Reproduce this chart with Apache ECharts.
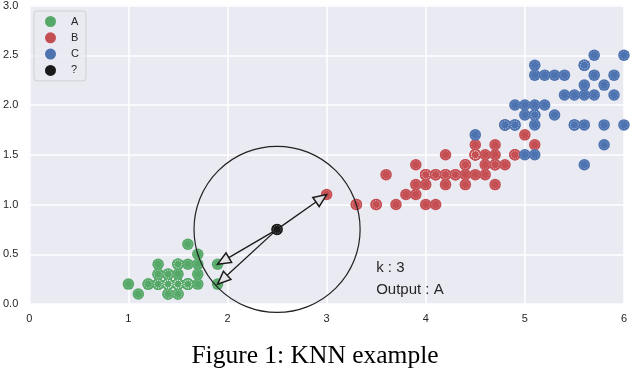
<!DOCTYPE html>
<html><head><meta charset="utf-8">
<script src="https://cdn.jsdelivr.net/npm/echarts@6/dist/echarts.min.js"></script>
<style>html,body{margin:0;padding:0;background:#fff}#c{width:630px;height:368px}</style>
</head><body><div id="c"></div>
<script>
// ---- data (petal length, petal width) ----
const classNames = ['A', 'B', 'C', '?'];
const classA = [[1.4,0.2],[1.4,0.2],[1.3,0.2],[1.5,0.2],[1.4,0.2],[1.7,0.4],[1.4,0.3],[1.5,0.2],[1.4,0.2],[1.5,0.1],
[1.5,0.2],[1.6,0.2],[1.4,0.1],[1.1,0.1],[1.2,0.2],[1.5,0.4],[1.3,0.4],[1.4,0.3],[1.7,0.3],[1.5,0.3],
[1.7,0.2],[1.5,0.4],[1.0,0.2],[1.7,0.5],[1.9,0.2],[1.6,0.2],[1.6,0.4],[1.5,0.2],[1.4,0.2],[1.6,0.2],
[1.6,0.2],[1.5,0.4],[1.5,0.1],[1.4,0.2],[1.5,0.2],[1.2,0.2],[1.3,0.2],[1.4,0.1],[1.3,0.2],[1.5,0.2],
[1.3,0.3],[1.3,0.3],[1.3,0.2],[1.6,0.6],[1.9,0.4],[1.4,0.3],[1.6,0.2],[1.4,0.2],[1.5,0.2],[1.4,0.2]];
const classB = [[4.7,1.4],[4.5,1.5],[4.9,1.5],[4.0,1.3],[4.6,1.5],[4.5,1.3],[4.7,1.6],[3.3,1.0],[4.6,1.3],[3.9,1.4],
[3.5,1.0],[4.2,1.5],[4.0,1.0],[4.7,1.4],[3.6,1.3],[4.4,1.4],[4.5,1.5],[4.1,1.0],[4.5,1.5],[3.9,1.1],
[4.8,1.8],[4.0,1.3],[4.9,1.5],[4.7,1.2],[4.3,1.3],[4.4,1.4],[4.8,1.4],[5.0,1.7],[4.5,1.5],[3.5,1.0],
[3.8,1.1],[3.7,1.0],[3.9,1.2],[5.1,1.6],[4.5,1.5],[4.5,1.6],[4.7,1.5],[4.4,1.3],[4.1,1.3],[4.0,1.3],
[4.4,1.2],[4.6,1.4],[4.0,1.2],[3.3,1.0],[4.2,1.3],[4.2,1.2],[4.2,1.3],[4.3,1.3],[3.0,1.1],[4.1,1.3]];
const classC = [[6.0,2.5],[5.1,1.9],[5.9,2.1],[5.6,1.8],[5.8,2.2],[4.5,1.7],[5.8,1.8],[5.1,2.0],[5.3,1.9],[5.5,2.1],
[5.0,2.0],[5.1,2.4],[5.3,2.3],[5.5,1.8],[5.0,1.5],[5.7,2.3],[4.9,2.0],[4.9,1.8],[5.7,2.1],[6.0,1.8],
[4.8,1.8],[4.9,1.8],[5.6,2.1],[5.8,1.6],[5.6,2.2],[5.1,1.5],[5.6,1.4],[5.6,2.4],[5.5,1.8],[4.8,1.8],
[5.4,2.1],[5.6,2.4],[5.1,2.3],[5.1,1.9],[5.9,2.3],[5.7,2.5],[5.2,2.3],[5.0,1.9],[5.2,2.0],[5.4,2.3],[5.1,1.8]];
const queryPoint = [[2.5, 0.75]];
const neighbors = [[3.0, 1.1], [1.9, 0.4], [1.9, 0.2]];
const circleRadius = 0.838;
const annotationLines = ['k : 3', 'Output : A'];
const caption = 'Figure 1: KNN example';
const xTicks = [0, 1, 2, 3, 4, 5, 6];
const yTicks = [0.0, 0.5, 1.0, 1.5, 2.0, 2.5, 3.0];

const colors = ['#55A868', '#C44E52', '#4C72B0', '#1a1a1a'];
const classData = [classA, classB, classC, queryPoint];
const ringStyle = {color: 'rgba(0,0,0,0)', borderColor: 'rgba(255,255,255,0.5)', borderWidth: 0.7, borderType: [1.2, 1.2]};

const chart = echarts.init(document.getElementById('c'), null, {renderer: 'canvas'});
const series = [];
classData.forEach((d, i) => {
  series.push({
    name: classNames[i], type: 'scatter', data: d, symbolSize: 11.5,
    itemStyle: {color: colors[i], opacity: 1}, emphasis: {disabled: true}, silent: true, z: 2 + i
  });
  series.push({
    name: classNames[i] + '_ring', type: 'scatter', data: d, symbolSize: 7.8,
    itemStyle: ringStyle, emphasis: {disabled: true}, silent: true, z: 2 + i
  });
});
series.push({
  type: 'custom', data: queryPoint, silent: true, z: 10, clip: false,
  renderItem: function (params, api) {
    const c = api.coord([api.value(0), api.value(1)]);
    const r = api.size([circleRadius, circleRadius]);
    const children = [{
      type: 'circle', shape: {cx: c[0], cy: c[1], r: r[0]},
      style: {fill: 'none', stroke: '#222', lineWidth: 1.2}
    }];
    neighbors.forEach(n => {
      const t = api.coord(n);
      const dx = t[0] - c[0], dy = t[1] - c[1];
      const L = Math.sqrt(dx * dx + dy * dy);
      const ux = dx / L, uy = dy / L, px = -uy, py = ux;
      const hl = 13, hw = 5.5;
      const bx = t[0] - ux * hl, by = t[1] - uy * hl;
      children.push({type: 'line', shape: {x1: c[0], y1: c[1], x2: bx, y2: by},
        style: {stroke: '#1a1a1a', lineWidth: 1.3}});
      children.push({type: 'polygon', shape: {points: [[t[0], t[1]], [bx + px * hw, by + py * hw], [bx - px * hw, by - py * hw]]},
        style: {fill: '#e4e4e8', stroke: '#1a1a1a', lineWidth: 1.5, lineJoin: 'miter'}});
    });
    const p1 = api.coord([3.5, 0.36]);
    const p2 = api.coord([3.5, 0.14]);
    children.push({type: 'text', x: p1[0], y: p1[1], style: {text: annotationLines[0], fill: '#262626',
      font: '15px "Liberation Sans", Arial, sans-serif', verticalAlign: 'middle', align: 'left'}});
    children.push({type: 'text', x: p2[0], y: p2[1], style: {text: annotationLines[1], fill: '#262626',
      font: '15px "Liberation Sans", Arial, sans-serif', verticalAlign: 'middle', align: 'left'}});
    return {type: 'group', children: children};
  }
});
// query point on top of arrows
series.push({
  type: 'scatter', data: queryPoint, symbolSize: 11, z: 11, silent: true,
  itemStyle: {color: colors[3]}
});
series.push({
  type: 'scatter', data: queryPoint, symbolSize: 7.8, z: 11, silent: true,
  itemStyle: ringStyle
});

chart.setOption({
  animation: false,
  backgroundColor: '#ffffff',
  title: {
    text: caption, left: 'center', top: 338,
    textStyle: {fontFamily: '"Liberation Serif", "Times New Roman", serif', fontSize: 25.5, fontWeight: 'normal', color: '#000'}
  },
  legend: {
    data: classNames, orient: 'vertical', left: 34, top: 11,
    padding: [5, 7, 5, 11], itemGap: 5.3, itemWidth: 11, itemHeight: 11,
    icon: 'circle', borderColor: '#cfcfd6', borderWidth: 1, borderRadius: 3,
    backgroundColor: 'rgba(234,234,242,0.8)',
    textStyle: {fontFamily: '"Liberation Sans", Arial, sans-serif', fontSize: 11, color: '#262626', padding: [0, 0, 0, 10], lineHeight: 11},
    selectedMode: false
  },
  grid: {left: 28.5, right: 5.5, top: 5, bottom: 64, show: true, backgroundColor: '#EAEAF2', borderWidth: 0},
  xAxis: {
    type: 'value', min: xTicks[0], max: xTicks[xTicks.length - 1], interval: 1,
    axisLine: {show: false}, axisTick: {show: false},
    splitLine: {show: true, lineStyle: {color: '#ffffff', width: 1.5}},
    axisLabel: {margin: 9, color: '#262626', fontSize: 11, fontFamily: '"Liberation Sans", Arial, sans-serif'}
  },
  yAxis: {
    type: 'value', min: yTicks[0], max: yTicks[yTicks.length - 1], interval: 0.5,
    axisLine: {show: false}, axisTick: {show: false},
    splitLine: {show: true, lineStyle: {color: '#ffffff', width: 1.5}},
    axisLabel: {margin: 11, color: '#262626', fontSize: 11, fontFamily: '"Liberation Sans", Arial, sans-serif',
      formatter: v => v.toFixed(1)}
  },
  series: series
});
</script>
</body></html>
